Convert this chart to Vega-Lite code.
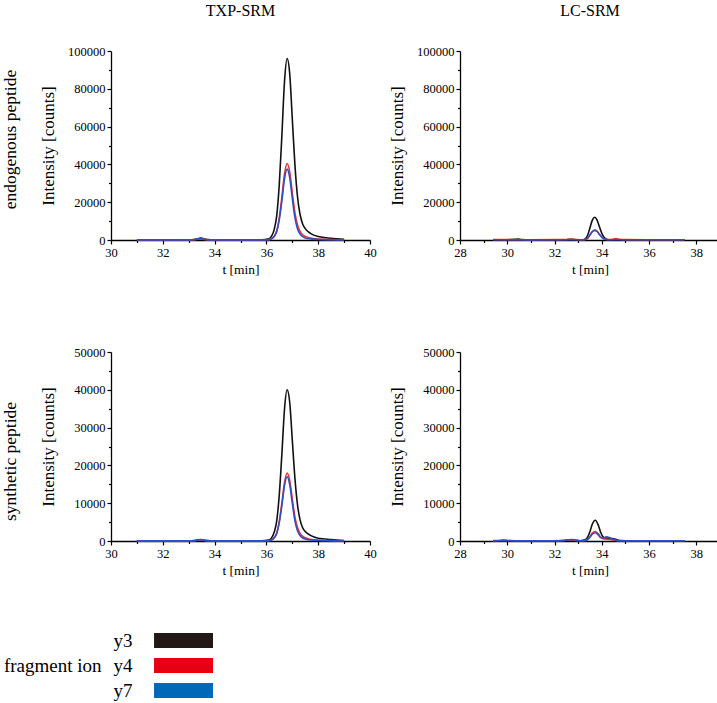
{
  "$schema": "https://vega.github.io/schema/vega-lite/v6.json",
  "background": "white",
  "padding": {"left": 1, "top": 3, "right": 0, "bottom": 0},
  "data": {"values": [
    {"p":"A","t":31,"y3":50,"y4":30,"y7":30},
    {"p":"A","t":32,"y3":60,"y4":30,"y7":30},
    {"p":"A","t":33,"y3":80,"y4":40,"y7":50},
    {"p":"A","t":33.2,"y3":200,"y4":100,"y7":150},
    {"p":"A","t":33.35,"y3":700,"y4":400,"y7":500},
    {"p":"A","t":33.45,"y3":1000,"y4":600,"y7":700},
    {"p":"A","t":33.55,"y3":800,"y4":450,"y7":550},
    {"p":"A","t":33.7,"y3":250,"y4":150,"y7":200},
    {"p":"A","t":34,"y3":80,"y4":40,"y7":50},
    {"p":"A","t":35,"y3":50,"y4":30,"y7":30},
    {"p":"A","t":35.8,"y3":60,"y4":30,"y7":30},
    {"p":"A","t":36.1,"y3":600,"y4":200,"y7":200},
    {"p":"A","t":36.2,"y3":2000,"y4":700,"y7":600},
    {"p":"A","t":36.3,"y3":5500,"y4":2000,"y7":1800},
    {"p":"A","t":36.4,"y3":13000,"y4":5000,"y7":4500},
    {"p":"A","t":36.5,"y3":30000,"y4":12000,"y7":11000},
    {"p":"A","t":36.6,"y3":56000,"y4":23000,"y7":21000},
    {"p":"A","t":36.7,"y3":84000,"y4":35000,"y7":32500},
    {"p":"A","t":36.8,"y3":96000,"y4":40500,"y7":37500},
    {"p":"A","t":36.9,"y3":88000,"y4":36000,"y7":33000},
    {"p":"A","t":37.0,"y3":64000,"y4":25000,"y7":22000},
    {"p":"A","t":37.1,"y3":40000,"y4":14500,"y7":12000},
    {"p":"A","t":37.2,"y3":23000,"y4":8000,"y7":6000},
    {"p":"A","t":37.3,"y3":13500,"y4":4500,"y7":3200},
    {"p":"A","t":37.4,"y3":8500,"y4":2800,"y7":1800},
    {"p":"A","t":37.5,"y3":6000,"y4":1900,"y7":1100},
    {"p":"A","t":37.7,"y3":3500,"y4":1000,"y7":600},
    {"p":"A","t":38,"y3":1800,"y4":500,"y7":300},
    {"p":"A","t":38.5,"y3":900,"y4":250,"y7":150},
    {"p":"A","t":39,"y3":400,"y4":100,"y7":50},

    {"p":"C","t":31,"y3":30,"y4":20,"y7":20},
    {"p":"C","t":32,"y3":30,"y4":20,"y7":20},
    {"p":"C","t":33,"y3":40,"y4":20,"y7":30},
    {"p":"C","t":33.2,"y3":100,"y4":60,"y7":80},
    {"p":"C","t":33.35,"y3":300,"y4":200,"y7":250},
    {"p":"C","t":33.45,"y3":400,"y4":300,"y7":350},
    {"p":"C","t":33.55,"y3":300,"y4":220,"y7":260},
    {"p":"C","t":33.7,"y3":100,"y4":80,"y7":90},
    {"p":"C","t":34,"y3":40,"y4":20,"y7":30},
    {"p":"C","t":35,"y3":30,"y4":20,"y7":20},
    {"p":"C","t":35.8,"y3":40,"y4":20,"y7":20},
    {"p":"C","t":36.1,"y3":250,"y4":90,"y7":90},
    {"p":"C","t":36.2,"y3":830,"y4":310,"y7":270},
    {"p":"C","t":36.3,"y3":2300,"y4":900,"y7":820},
    {"p":"C","t":36.4,"y3":5400,"y4":2200,"y7":2000},
    {"p":"C","t":36.5,"y3":12500,"y4":5300,"y7":5000},
    {"p":"C","t":36.6,"y3":23300,"y4":10200,"y7":9500},
    {"p":"C","t":36.7,"y3":35000,"y4":15500,"y7":14700},
    {"p":"C","t":36.8,"y3":40000,"y4":18000,"y7":17000},
    {"p":"C","t":36.9,"y3":36700,"y4":16000,"y7":14900},
    {"p":"C","t":37.0,"y3":26700,"y4":11100,"y7":10000},
    {"p":"C","t":37.1,"y3":16700,"y4":6400,"y7":5400},
    {"p":"C","t":37.2,"y3":9600,"y4":3550,"y7":2700},
    {"p":"C","t":37.3,"y3":5600,"y4":2000,"y7":1450},
    {"p":"C","t":37.4,"y3":3500,"y4":1250,"y7":800},
    {"p":"C","t":37.5,"y3":2500,"y4":840,"y7":500},
    {"p":"C","t":37.7,"y3":1500,"y4":440,"y7":270},
    {"p":"C","t":38,"y3":750,"y4":220,"y7":140},
    {"p":"C","t":38.5,"y3":400,"y4":110,"y7":70},
    {"p":"C","t":39,"y3":150,"y4":40,"y7":20},

    {"p":"B","t":29.4,"y3":100,"y4":300,"y7":100},
    {"p":"B","t":30,"y3":150,"y4":200,"y7":100},
    {"p":"B","t":30.3,"y3":350,"y4":150,"y7":100},
    {"p":"B","t":30.45,"y3":550,"y4":150,"y7":120},
    {"p":"B","t":30.6,"y3":300,"y4":150,"y7":100},
    {"p":"B","t":31,"y3":100,"y4":150,"y7":80},
    {"p":"B","t":32,"y3":100,"y4":200,"y7":100},
    {"p":"B","t":32.5,"y3":150,"y4":300,"y7":150},
    {"p":"B","t":32.7,"y3":200,"y4":450,"y7":200},
    {"p":"B","t":32.9,"y3":150,"y4":300,"y7":150},
    {"p":"B","t":33.2,"y3":150,"y4":150,"y7":100},
    {"p":"B","t":33.3,"y3":600,"y4":250,"y7":250},
    {"p":"B","t":33.4,"y3":2500,"y4":1000,"y7":950},
    {"p":"B","t":33.5,"y3":6500,"y4":2800,"y7":2700},
    {"p":"B","t":33.6,"y3":10500,"y4":4500,"y7":4400},
    {"p":"B","t":33.7,"y3":12000,"y4":5200,"y7":5100},
    {"p":"B","t":33.8,"y3":10500,"y4":4600,"y7":4500},
    {"p":"B","t":33.9,"y3":7000,"y4":3000,"y7":2900},
    {"p":"B","t":34.0,"y3":3500,"y4":1500,"y7":1400},
    {"p":"B","t":34.1,"y3":1300,"y4":600,"y7":550},
    {"p":"B","t":34.2,"y3":400,"y4":300,"y7":250},
    {"p":"B","t":34.3,"y3":150,"y4":250,"y7":150},
    {"p":"B","t":34.45,"y3":100,"y4":400,"y7":150},
    {"p":"B","t":34.6,"y3":120,"y4":750,"y7":200},
    {"p":"B","t":34.75,"y3":100,"y4":400,"y7":150},
    {"p":"B","t":35,"y3":80,"y4":200,"y7":100},
    {"p":"B","t":36,"y3":80,"y4":150,"y7":100},
    {"p":"B","t":37,"y3":80,"y4":150,"y7":100},
    {"p":"B","t":37.5,"y3":80,"y4":120,"y7":100},

    {"p":"D","t":29.4,"y3":50,"y4":100,"y7":50},
    {"p":"D","t":29.7,"y3":50,"y4":200,"y7":50},
    {"p":"D","t":29.85,"y3":60,"y4":300,"y7":60},
    {"p":"D","t":30,"y3":50,"y4":200,"y7":50},
    {"p":"D","t":30.3,"y3":50,"y4":80,"y7":50},
    {"p":"D","t":31,"y3":50,"y4":50,"y7":50},
    {"p":"D","t":32,"y3":60,"y4":60,"y7":60},
    {"p":"D","t":32.4,"y3":100,"y4":150,"y7":150},
    {"p":"D","t":32.6,"y3":250,"y4":300,"y7":350},
    {"p":"D","t":32.75,"y3":300,"y4":280,"y7":400},
    {"p":"D","t":32.9,"y3":200,"y4":150,"y7":250},
    {"p":"D","t":33.1,"y3":80,"y4":60,"y7":80},
    {"p":"D","t":33.3,"y3":300,"y4":150,"y7":100},
    {"p":"D","t":33.4,"y3":1000,"y4":500,"y7":400},
    {"p":"D","t":33.5,"y3":2500,"y4":1200,"y7":1000},
    {"p":"D","t":33.6,"y3":4500,"y4":2100,"y7":1800},
    {"p":"D","t":33.72,"y3":5500,"y4":2500,"y7":2200},
    {"p":"D","t":33.85,"y3":4200,"y4":1900,"y7":1600},
    {"p":"D","t":33.95,"y3":2300,"y4":1000,"y7":900},
    {"p":"D","t":34.05,"y3":1100,"y4":600,"y7":800},
    {"p":"D","t":34.2,"y3":700,"y4":500,"y7":1100},
    {"p":"D","t":34.35,"y3":700,"y4":400,"y7":800},
    {"p":"D","t":34.5,"y3":600,"y4":250,"y7":400},
    {"p":"D","t":34.65,"y3":300,"y4":100,"y7":150},
    {"p":"D","t":34.8,"y3":100,"y4":60,"y7":50},
    {"p":"D","t":35,"y3":60,"y4":50,"y7":50},
    {"p":"D","t":36,"y3":60,"y4":50,"y7":60},
    {"p":"D","t":36.3,"y3":80,"y4":50,"y7":80},
    {"p":"D","t":37,"y3":60,"y4":50,"y7":50},
    {"p":"D","t":37.5,"y3":50,"y4":50,"y7":50}
  ]},
  "vconcat": [
    {
      "vconcat": [
        {
          "title": {"text": "endogenous peptide", "orient": "left", "anchor": "middle", "offset": 20, "fontSize": 17.5},
          "spacing": 11,
          "hconcat": [
            {
              "width": 259, "height": 189,
              "title": {"text": "TXP-SRM", "offset": 26},
              "transform": [{"filter": "datum.p == 'A'"}, {"fold": ["y3", "y4", "y7"], "as": ["ion", "v"]}],
              "layer": [
                {
                  "transform": [{"filter": "datum.ion == 'y3'"}],
                  "mark": {"type": "line", "interpolate": "monotone", "strokeWidth": 1.6},
                  "encoding": {
                    "x": {"field": "t", "type": "quantitative", "scale": {"domain": [30, 40], "nice": false, "zero": false}, "axis": {"values": [30, 32, 34, 36, 38, 40], "title": "t [min]", "orient": "bottom", "labelFont": "Liberation Serif", "titleFont": "Liberation Serif"}},
                    "y": {"field": "v", "type": "quantitative", "scale": {"domain": [0, 100000], "nice": false}, "axis": {"values": [0, 20000, 40000, 60000, 80000, 100000], "format": "d", "title": "Intensity [counts]", "orient": "left", "labelFont": "Liberation Serif", "titleFont": "Liberation Serif"}},
                    "color": {"field": "ion", "type": "nominal", "scale": {"domain": ["y3", "y4", "y7"], "range": ["#111111", "#e8322f", "#2f4fc4"]}, "legend": null}
                  }
                },
                {
                  "transform": [{"filter": "datum.ion != 'y3'"}],
                  "mark": {"type": "line", "interpolate": "monotone", "strokeWidth": 1.6},
                  "encoding": {
                    "x": {"field": "t", "type": "quantitative", "scale": {"domain": [30, 40], "nice": false, "zero": false}, "axis": {"values": [31, 33, 35, 37, 39], "labels": false, "domain": false, "title": null, "tickSize": 2.5, "orient": "bottom", "minExtent": 0, "maxExtent": 5}},
                    "y": {"field": "v", "type": "quantitative", "scale": {"domain": [0, 100000], "nice": false}, "axis": {"values": [10000, 30000, 50000, 70000, 90000], "labels": false, "domain": false, "title": null, "tickSize": 2.5, "orient": "left", "minExtent": 0, "maxExtent": 5}},
                    "color": {"field": "ion", "type": "nominal", "scale": {"domain": ["y3", "y4", "y7"], "range": ["#111111", "#e8322f", "#2f4fc4"]}, "legend": null}
                  }
                }
              ],
              "resolve": {"axis": {"x": "independent", "y": "independent"}}
            },
            {
              "width": 260, "height": 189,
              "title": {"text": "LC-SRM", "offset": 26},
              "transform": [{"filter": "datum.p == 'B'"}, {"fold": ["y3", "y4", "y7"], "as": ["ion", "v"]}],
              "layer": [
                {
                  "transform": [{"filter": "datum.ion == 'y3'"}],
                  "mark": {"type": "line", "interpolate": "monotone", "strokeWidth": 1.6},
                  "encoding": {
                    "x": {"field": "t", "type": "quantitative", "scale": {"domain": [28, 39], "nice": false, "zero": false}, "axis": {"values": [28, 30, 32, 34, 36, 38], "title": "t [min]", "orient": "bottom", "labelFont": "Liberation Serif", "titleFont": "Liberation Serif"}},
                    "y": {"field": "v", "type": "quantitative", "scale": {"domain": [0, 100000], "nice": false}, "axis": {"values": [0, 20000, 40000, 60000, 80000, 100000], "format": "d", "title": "Intensity [counts]", "orient": "left", "labelFont": "Liberation Serif", "titleFont": "Liberation Serif"}},
                    "color": {"field": "ion", "type": "nominal", "scale": {"domain": ["y3", "y4", "y7"], "range": ["#111111", "#e8322f", "#2f4fc4"]}, "legend": null}
                  }
                },
                {
                  "transform": [{"filter": "datum.ion != 'y3'"}],
                  "mark": {"type": "line", "interpolate": "monotone", "strokeWidth": 1.6},
                  "encoding": {
                    "x": {"field": "t", "type": "quantitative", "scale": {"domain": [28, 39], "nice": false, "zero": false}, "axis": {"values": [29, 31, 33, 35, 37, 39], "labels": false, "domain": false, "title": null, "tickSize": 2.5, "orient": "bottom", "minExtent": 0, "maxExtent": 5}},
                    "y": {"field": "v", "type": "quantitative", "scale": {"domain": [0, 100000], "nice": false}, "axis": {"values": [10000, 30000, 50000, 70000, 90000], "labels": false, "domain": false, "title": null, "tickSize": 2.5, "orient": "left", "minExtent": 0, "maxExtent": 5}},
                    "color": {"field": "ion", "type": "nominal", "scale": {"domain": ["y3", "y4", "y7"], "range": ["#111111", "#e8322f", "#2f4fc4"]}, "legend": null}
                  }
                }
              ],
              "resolve": {"axis": {"x": "independent", "y": "independent"}}
            }
          ]
        },
        {
          "title": {"text": "synthetic peptide", "orient": "left", "anchor": "middle", "offset": 20, "fontSize": 17.5},
          "spacing": 11,
          "hconcat": [
            {
              "width": 259, "height": 189,
              "transform": [{"filter": "datum.p == 'C'"}, {"fold": ["y3", "y4", "y7"], "as": ["ion", "v"]}],
              "layer": [
                {
                  "transform": [{"filter": "datum.ion == 'y3'"}],
                  "mark": {"type": "line", "interpolate": "monotone", "strokeWidth": 1.6},
                  "encoding": {
                    "x": {"field": "t", "type": "quantitative", "scale": {"domain": [30, 40], "nice": false, "zero": false}, "axis": {"values": [30, 32, 34, 36, 38, 40], "title": "t [min]", "orient": "bottom", "labelFont": "Liberation Serif", "titleFont": "Liberation Serif"}},
                    "y": {"field": "v", "type": "quantitative", "scale": {"domain": [0, 50000], "nice": false}, "axis": {"values": [0, 10000, 20000, 30000, 40000, 50000], "format": "d", "title": "Intensity [counts]", "orient": "left", "labelFont": "Liberation Serif", "titleFont": "Liberation Serif"}},
                    "color": {"field": "ion", "type": "nominal", "scale": {"domain": ["y3", "y4", "y7"], "range": ["#111111", "#e8322f", "#2f4fc4"]}, "legend": null}
                  }
                },
                {
                  "transform": [{"filter": "datum.ion != 'y3'"}],
                  "mark": {"type": "line", "interpolate": "monotone", "strokeWidth": 1.6},
                  "encoding": {
                    "x": {"field": "t", "type": "quantitative", "scale": {"domain": [30, 40], "nice": false, "zero": false}, "axis": {"values": [31, 33, 35, 37, 39], "labels": false, "domain": false, "title": null, "tickSize": 2.5, "orient": "bottom", "minExtent": 0, "maxExtent": 5}},
                    "y": {"field": "v", "type": "quantitative", "scale": {"domain": [0, 50000], "nice": false}, "axis": {"values": [5000, 15000, 25000, 35000, 45000], "labels": false, "domain": false, "title": null, "tickSize": 2.5, "orient": "left", "minExtent": 0, "maxExtent": 5}},
                    "color": {"field": "ion", "type": "nominal", "scale": {"domain": ["y3", "y4", "y7"], "range": ["#111111", "#e8322f", "#2f4fc4"]}, "legend": null}
                  }
                }
              ],
              "resolve": {"axis": {"x": "independent", "y": "independent"}}
            },
            {
              "width": 260, "height": 189,
              "transform": [{"filter": "datum.p == 'D'"}, {"fold": ["y3", "y4", "y7"], "as": ["ion", "v"]}],
              "layer": [
                {
                  "transform": [{"filter": "datum.ion == 'y3'"}],
                  "mark": {"type": "line", "interpolate": "monotone", "strokeWidth": 1.6},
                  "encoding": {
                    "x": {"field": "t", "type": "quantitative", "scale": {"domain": [28, 39], "nice": false, "zero": false}, "axis": {"values": [28, 30, 32, 34, 36, 38], "title": "t [min]", "orient": "bottom", "labelFont": "Liberation Serif", "titleFont": "Liberation Serif"}},
                    "y": {"field": "v", "type": "quantitative", "scale": {"domain": [0, 50000], "nice": false}, "axis": {"values": [0, 10000, 20000, 30000, 40000, 50000], "format": "d", "title": "Intensity [counts]", "orient": "left", "labelFont": "Liberation Serif", "titleFont": "Liberation Serif"}},
                    "color": {"field": "ion", "type": "nominal", "scale": {"domain": ["y3", "y4", "y7"], "range": ["#111111", "#e8322f", "#2f4fc4"]}, "legend": null}
                  }
                },
                {
                  "transform": [{"filter": "datum.ion != 'y3'"}],
                  "mark": {"type": "line", "interpolate": "monotone", "strokeWidth": 1.6},
                  "encoding": {
                    "x": {"field": "t", "type": "quantitative", "scale": {"domain": [28, 39], "nice": false, "zero": false}, "axis": {"values": [29, 31, 33, 35, 37, 39], "labels": false, "domain": false, "title": null, "tickSize": 2.5, "orient": "bottom", "minExtent": 0, "maxExtent": 5}},
                    "y": {"field": "v", "type": "quantitative", "scale": {"domain": [0, 50000], "nice": false}, "axis": {"values": [5000, 15000, 25000, 35000, 45000], "labels": false, "domain": false, "title": null, "tickSize": 2.5, "orient": "left", "minExtent": 0, "maxExtent": 5}},
                    "color": {"field": "ion", "type": "nominal", "scale": {"domain": ["y3", "y4", "y7"], "range": ["#111111", "#e8322f", "#2f4fc4"]}, "legend": null}
                  }
                }
              ],
              "resolve": {"axis": {"x": "independent", "y": "independent"}}
            }
          ]
        }
      ],
      "spacing": 70
    },
    {
      "width": 102, "height": 75,
      "data": {"values": [{"ion": "y3"}, {"ion": "y4"}, {"ion": "y7"}]},
      "mark": {"type": "rect"},
      "encoding": {
        "x": {"datum": 0, "type": "quantitative", "scale": {"domain": [-0.73, 1], "nice": false, "zero": false}, "axis": null},
        "x2": {"datum": 1},
        "y": {"field": "ion", "type": "nominal", "scale": {"paddingInner": 0.4, "paddingOuter": 0.2}, "axis": {"offset": -43, "domain": false, "ticks": false, "labelFont": "Liberation Serif", "labelFontSize": 19, "labelPadding": 22, "title": "fragment ion", "titleFont": "Liberation Serif", "titleAngle": 0, "titleAlign": "right", "titleBaseline": "middle", "titleFontSize": 19, "titlePadding": 6, "minExtent": 47, "maxExtent": 47}},
        "color": {"field": "ion", "type": "nominal", "scale": {"domain": ["y3", "y4", "y7"], "range": ["#231815", "#e60012", "#0068b7"]}, "legend": null}
      }
    }
  ],
  "spacing": 51,
  "resolve": {"scale": {"color": "independent"}},
  "config": {
    "view": {"stroke": null},
    "font": "Liberation Serif",
    "axis": {"domainColor": "#000", "domainWidth": 1.3, "tickColor": "#000", "tickWidth": 1.2, "tickSize": 4, "labelColor": "#000", "labelFontSize": 12.5, "labelPadding": 2, "titleFontWeight": "normal", "titleColor": "#000", "grid": false, "labelFlush": false, "labelOverlap": false},
    "axisY": {"titleFontSize": 17, "minExtent": 48, "maxExtent": 48, "titlePadding": 6},
    "axisX": {"titleFontSize": 13.5, "titlePadding": 4},
    "title": {"font": "Liberation Serif", "fontWeight": "normal", "fontSize": 16, "color": "#000"}
  }
}
